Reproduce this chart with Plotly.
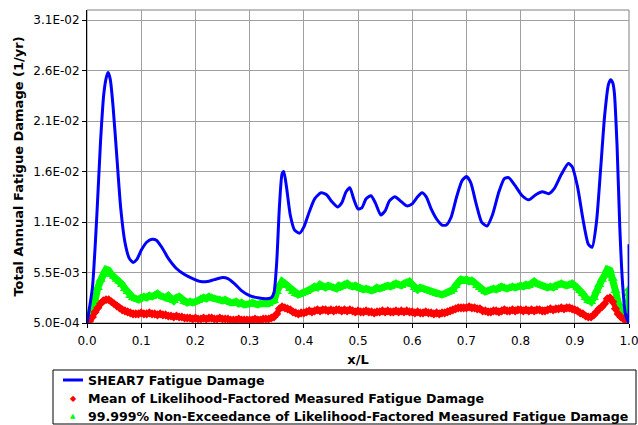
import plotly.graph_objects as go

# ---------------- data ----------------
blue_x = [0.000, 0.010, 0.018, 0.025, 0.031, 0.036, 0.039, 0.043, 0.048, 0.055,
          0.062, 0.070, 0.078, 0.085, 0.092, 0.100, 0.110, 0.120, 0.128, 0.138,
          0.150, 0.165, 0.180, 0.195, 0.210, 0.222, 0.235, 0.250, 0.260, 0.272,
          0.285, 0.300, 0.315, 0.330, 0.340, 0.345, 0.350, 0.355, 0.360, 0.363,
          0.368, 0.375, 0.383, 0.392, 0.400, 0.410, 0.420, 0.432, 0.442, 0.452,
          0.462, 0.470, 0.478, 0.485, 0.492, 0.500, 0.507, 0.515, 0.524, 0.532,
          0.542, 0.550, 0.558, 0.568, 0.578, 0.590, 0.600, 0.610, 0.618, 0.626,
          0.635, 0.645, 0.655, 0.663, 0.672, 0.682, 0.692, 0.700, 0.708, 0.718,
          0.728, 0.738, 0.748, 0.760, 0.770, 0.778, 0.790, 0.803, 0.815, 0.828,
          0.840, 0.852, 0.862, 0.875, 0.888, 0.895, 0.905, 0.915, 0.925, 0.932,
          0.940, 0.948, 0.955, 0.962, 0.966, 0.970, 0.973, 0.978, 0.983, 0.988,
          0.993, 0.997, 0.999, 1.000]
blue_y = [0.0005, 0.0040, 0.0110, 0.0185, 0.0232, 0.0249, 0.0253, 0.0246, 0.0220, 0.0170,
          0.0120, 0.0085, 0.0069, 0.0065, 0.0068, 0.0077, 0.0085, 0.0088, 0.0087, 0.0080,
          0.0069, 0.0059, 0.0053, 0.0049, 0.0046, 0.0046, 0.0048, 0.0050, 0.0049, 0.0044,
          0.0037, 0.0032, 0.0030, 0.0029, 0.0030, 0.0035, 0.0065, 0.0120, 0.0153, 0.0155,
          0.0140, 0.0112, 0.0097, 0.0094, 0.0100, 0.0115, 0.0128, 0.0134, 0.0132, 0.0125,
          0.0120, 0.0124, 0.0135, 0.0139, 0.0128, 0.0118, 0.0119, 0.0128, 0.0131, 0.0124,
          0.0112, 0.0116, 0.0126, 0.0130, 0.0126, 0.0121, 0.0123, 0.0130, 0.0134, 0.0130,
          0.0118, 0.0108, 0.0102, 0.0102, 0.0110, 0.0130, 0.0146, 0.0150, 0.0144, 0.0123,
          0.0105, 0.0101, 0.0112, 0.0135, 0.0148, 0.0149, 0.0141, 0.0131, 0.0127, 0.0132,
          0.0135, 0.0133, 0.0138, 0.0152, 0.0163, 0.0160, 0.0140, 0.0108, 0.0083, 0.0080,
          0.0105, 0.0160, 0.0210, 0.0241, 0.0246, 0.0243, 0.0233, 0.0180, 0.0100, 0.0045,
          0.0015, 0.0008, 0.0006, 0.0083]

# measurement stations every 0.005 x/L
station_x = [i / 200 for i in range(201)]

green_y = [
    0.0006, 0.0012, 0.0020, 0.0028, 0.0040, 0.0048, 0.0053, 0.0058, 0.0057, 0.0053,
    0.0051, 0.0048, 0.0046, 0.0043, 0.0039, 0.0036, 0.0032, 0.0030, 0.0029, 0.0028,
    0.0030, 0.0031, 0.0030, 0.0032, 0.0031, 0.0032, 0.0034, 0.0032, 0.0031, 0.0030,
    0.0032, 0.0028, 0.0027, 0.0030, 0.0031, 0.0029, 0.0026, 0.0025, 0.0026, 0.0025,
    0.0026, 0.0027, 0.0029, 0.0030, 0.0029, 0.0031, 0.0030, 0.0029, 0.0028, 0.0028,
    0.0027, 0.0028, 0.0026, 0.0025, 0.0025, 0.0026, 0.0024, 0.0025, 0.0023, 0.0023,
    0.0024, 0.0025, 0.0024, 0.0023, 0.0024, 0.0024, 0.0025, 0.0024, 0.0026, 0.0027,
    0.0036, 0.0043, 0.0046, 0.0044, 0.0042, 0.0039, 0.0036, 0.0034, 0.0033, 0.0034,
    0.0035, 0.0036, 0.0038, 0.0039, 0.0041, 0.0040, 0.0043, 0.0041, 0.0040, 0.0042,
    0.0041, 0.0040, 0.0039, 0.0042, 0.0041, 0.0043, 0.0044, 0.0042, 0.0041, 0.0042,
    0.0040, 0.0039, 0.0038, 0.0039, 0.0038, 0.0037, 0.0038, 0.0040, 0.0039, 0.0040,
    0.0041, 0.0042, 0.0041, 0.0043, 0.0044, 0.0043, 0.0042, 0.0044, 0.0045, 0.0046,
    0.0043, 0.0040, 0.0038, 0.0040, 0.0039, 0.0038, 0.0037, 0.0036, 0.0035, 0.0034,
    0.0033, 0.0033, 0.0034, 0.0035, 0.0036, 0.0038, 0.0042, 0.0046, 0.0048, 0.0047,
    0.0048, 0.0046, 0.0047, 0.0045, 0.0042, 0.0040, 0.0038, 0.0036, 0.0037, 0.0038,
    0.0039, 0.0038, 0.0040, 0.0041, 0.0040, 0.0039, 0.0040, 0.0041, 0.0040, 0.0041,
    0.0042, 0.0041, 0.0043, 0.0042, 0.0044, 0.0046, 0.0044, 0.0043, 0.0042, 0.0041,
    0.0040, 0.0041, 0.0040, 0.0042, 0.0043, 0.0044, 0.0043, 0.0042, 0.0043, 0.0044,
    0.0042, 0.0040, 0.0037, 0.0034, 0.0030, 0.0027, 0.0026, 0.0030, 0.0037, 0.0043,
    0.0048, 0.0052, 0.0058, 0.0057, 0.0049, 0.0037, 0.0025, 0.0018, 0.0013, 0.0009,
    0.0008]

red_y = [
    0.0005, 0.0007, 0.0011, 0.0016, 0.0020, 0.0024, 0.0027, 0.0028, 0.0028, 0.0026,
    0.0024, 0.0022, 0.0020, 0.0018, 0.0017, 0.0016, 0.0015, 0.0014, 0.0014, 0.0014,
    0.0015, 0.0014, 0.0014, 0.0015, 0.0014, 0.0014, 0.0013, 0.0014, 0.0013, 0.0013,
    0.0012, 0.0012, 0.0011, 0.0012, 0.0011, 0.0011, 0.0010, 0.0010, 0.0010, 0.0009,
    0.0010, 0.0009, 0.0009, 0.0010, 0.0009, 0.0010, 0.0010, 0.0009, 0.0009, 0.0010,
    0.0009, 0.0009, 0.0009, 0.0008, 0.0008, 0.0008, 0.0009, 0.0008, 0.0008, 0.0008,
    0.0008, 0.0008, 0.0009, 0.0008, 0.0008, 0.0009, 0.0009, 0.0009, 0.0010, 0.0011,
    0.0014, 0.0019, 0.0021, 0.0020, 0.0019, 0.0018, 0.0016, 0.0015, 0.0014, 0.0015,
    0.0015, 0.0016, 0.0017, 0.0016, 0.0017, 0.0018, 0.0017, 0.0018, 0.0018, 0.0017,
    0.0018, 0.0017, 0.0018, 0.0018, 0.0017, 0.0018, 0.0017, 0.0018, 0.0017, 0.0016,
    0.0017, 0.0016, 0.0016, 0.0017, 0.0016, 0.0016, 0.0015, 0.0016, 0.0016, 0.0017,
    0.0016, 0.0017, 0.0016, 0.0016, 0.0017, 0.0016, 0.0017, 0.0016, 0.0017, 0.0016,
    0.0016, 0.0015, 0.0016, 0.0015, 0.0015, 0.0016, 0.0015, 0.0015, 0.0014, 0.0015,
    0.0014, 0.0015, 0.0015, 0.0016, 0.0017, 0.0018, 0.0019, 0.0020, 0.0020, 0.0020,
    0.0020, 0.0021, 0.0020, 0.0020, 0.0019, 0.0019, 0.0017, 0.0017, 0.0016, 0.0016,
    0.0017, 0.0017, 0.0016, 0.0017, 0.0018, 0.0017, 0.0017, 0.0018, 0.0017, 0.0018,
    0.0018, 0.0017, 0.0018, 0.0017, 0.0018, 0.0017, 0.0018, 0.0018, 0.0017, 0.0017,
    0.0018, 0.0019, 0.0018, 0.0019, 0.0019, 0.0020, 0.0019, 0.0020, 0.0020, 0.0019,
    0.0018, 0.0017, 0.0015, 0.0014, 0.0012, 0.0011, 0.0011, 0.0013, 0.0016, 0.0019,
    0.0021, 0.0024, 0.0029, 0.0030, 0.0026, 0.0019, 0.0014, 0.0011, 0.0009, 0.0007,
    0.0006]

# extra points recorded at the end station x/L = 1.0
end_x = [1.0, 1.0, 1.0]
end_green = [0.0028, 0.0034, 0.0039]
end_red = [0.0008, 0.0011, 0.0009]

y_tickvals = [0.0005, 0.0055, 0.0105, 0.0155, 0.0205, 0.0255, 0.0305]
y_ticktext = ["5.0E-04", "5.5E-03", "1.1E-02", "1.6E-02", "2.1E-02", "2.6E-02", "3.1E-02"]
x_tickvals = [0.0, 0.1, 0.2, 0.3, 0.4, 0.5, 0.6, 0.7, 0.8, 0.9, 1.0]
x_ticktext = ["0.0", "0.1", "0.2", "0.3", "0.4", "0.5", "0.6", "0.7", "0.8", "0.9", "1.0"]

names = ["SHEAR7 Fatigue Damage",
         "Mean of Likelihood-Factored Measured Fatigue Damage",
         "99.999% Non-Exceedance of Likelihood-Factored Measured Fatigue Damage"]

# ---------------- figure ----------------
FONT = "DejaVu Sans, Verdana, sans-serif"
GREEN = "#00ff00"
RED = "#ff0000"
BLUE = "#0000ff"
W, H = 638, 425
ML, MR, MT, MB = 87, 9, 10, 102
PW, PH = W - ML - MR, H - MT - MB


def px_x(px):  # pixel -> paper x
    return (px - ML) / PW


def px_y(py):  # pixel -> paper y
    return (H - MB - py) / PH


fig = go.Figure()

# green band (dense triangles)
fig.add_trace(go.Scatter(
    x=station_x + end_x, y=green_y + end_green, mode="lines",
    line=dict(color=GREEN, width=7), hoverinfo="skip"))
fig.add_trace(go.Scatter(
    x=station_x + end_x, y=green_y + end_green, mode="markers", name=names[2],
    marker=dict(symbol="triangle-up", size=9, color=GREEN, line=dict(width=0))))
# red band (dense diamonds)
fig.add_trace(go.Scatter(
    x=station_x + end_x, y=red_y + end_red, mode="lines",
    line=dict(color=RED, width=5), hoverinfo="skip"))
fig.add_trace(go.Scatter(
    x=station_x + end_x, y=red_y + end_red, mode="markers", name=names[1],
    marker=dict(symbol="diamond", size=7, color=RED, line=dict(width=0))))
# blue line
fig.add_trace(go.Scatter(
    x=blue_x, y=blue_y, mode="lines", name=names[0],
    line=dict(color=BLUE, width=3, shape="spline", smoothing=0.6)))

# ---- legend box drawn below the plot ----
row_y = [380, 398, 416]
shapes = [
    dict(type="rect", xref="paper", yref="paper", x0=0, x1=1, y0=0, y1=1,
         line=dict(color="#808080", width=1), layer="below"),
    dict(type="rect", xref="paper", yref="paper",
         x0=px_x(53), x1=px_x(636), y0=px_y(424), y1=px_y(370),
         line=dict(color="black", width=1), fillcolor="white"),
    dict(type="line", xref="paper", yref="paper",
         x0=px_x(63), x1=px_x(83), y0=px_y(row_y[0]), y1=px_y(row_y[0]),
         line=dict(color=BLUE, width=3)),
]
annotations = []
for name, ry in zip(names, row_y):
    annotations.append(dict(
        text="<b>%s</b>" % name, xref="paper", yref="paper",
        x=px_x(86), y=px_y(ry), xanchor="left", yanchor="middle", showarrow=False,
        font=dict(family=FONT, size=12.6, color="black")))
annotations.append(dict(
    text="\u25C6", xref="paper", yref="paper", x=px_x(73), y=px_y(row_y[1]),
    xanchor="center", yanchor="middle", showarrow=False,
    font=dict(family=FONT, size=8, color=RED)))
annotations.append(dict(
    text="\u25B2", xref="paper", yref="paper", x=px_x(73), y=px_y(row_y[2]),
    xanchor="center", yanchor="middle", showarrow=False,
    font=dict(family=FONT, size=7, color=GREEN)))

fig.update_layout(
    width=W, height=H,
    margin=dict(l=ML, r=MR, t=MT, b=MB, autoexpand=False),
    paper_bgcolor="white", plot_bgcolor="white",
    font=dict(family=FONT, size=12, color="black"),
    showlegend=False,
    shapes=shapes,
    annotations=annotations,
)

fig.update_xaxes(
    range=[0, 1.0], tickvals=x_tickvals, ticktext=x_ticktext,
    showgrid=True, gridcolor="#a0a0a0", gridwidth=1,
    showline=True, linecolor="black", linewidth=1,
    ticks="outside", ticklen=4, tickcolor="black",
    zeroline=False, automargin=False, ticklabeloverflow="allow",
    ticklabelstandoff=3,
    title=dict(text="<b>x/L</b>", font=dict(family=FONT, size=13), standoff=7),
    tickfont=dict(family=FONT, size=12),
)
fig.update_yaxes(
    range=[0.0005, 0.0315], tickvals=y_tickvals, ticktext=y_ticktext,
    showgrid=True, gridcolor="#a0a0a0", gridwidth=1,
    showline=True, linecolor="black", linewidth=1,
    ticks="outside", ticklen=4, tickcolor="black",
    zeroline=False, automargin=False,
    title=dict(text="<b>Total Annual Fatigue Damage (1/yr)</b>", font=dict(family=FONT, size=13), standoff=6),
    tickfont=dict(family=FONT, size=12),
)

fig.write_html(
    "out.html",
    config={"displayModeBar": False},
    post_script="document.body.style.margin='0';document.body.style.padding='0';document.body.style.overflow='hidden';",
)
